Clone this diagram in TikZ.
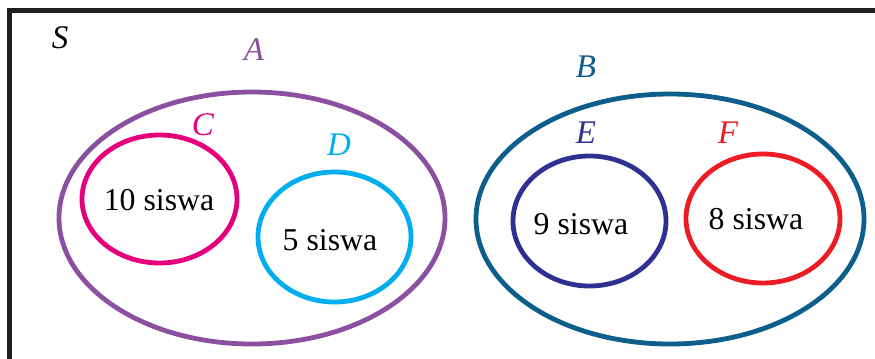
\documentclass[tikz,border=0pt]{standalone}
\usepackage{fontspec}
\setmainfont{Liberation Serif}
\usepackage{xcolor}
\usetikzlibrary{shapes.geometric}
\definecolor{setpurple}{RGB}{140,80,160}
\definecolor{setteal}{RGB}{13,94,138}
\definecolor{setmagenta}{RGB}{230,0,126}
\definecolor{setcyan}{RGB}{0,174,239}
\definecolor{setnavy}{RGB}{46,49,146}
\definecolor{setred}{RGB}{237,28,36}
\tikzset{
  frm/.style={line width=2.6pt,color={rgb,255:red,35;green,31;blue,32}},
  ring/.style={ellipse,draw=#1,line width=2.4pt,inner sep=0pt},
  lab/.style={text=#1,inner sep=0pt,font=\fontsize{16.5}{18}\selectfont\itshape},
  cnt/.style={inner sep=0pt,font=\fontsize{15.9}{18}\selectfont}
}
\newcommand{\setring}[6]{\node[ring=#6,minimum width=#4*0.5pt,minimum height=#5*0.5pt] (#1) at (#2,#3) {};}
\begin{document}
\begin{tikzpicture}[x=0.5pt,y=-0.5pt]
\useasboundingbox (0,0) rectangle (875,359);
\draw[frm] (9.5,370) -- (9.5,10.5) -- (890,10.5);
\node[lab=black] (lS) at (60,38) {S};
\setring{setA}{252}{218}{386}{252}{setpurple}
\setring{setB}{670}{219}{388}{250}{setteal}
\setring{setC}{159.5}{199}{155}{128}{setmagenta}
\setring{setD}{334.5}{237}{153}{130}{setcyan}
\setring{setE}{589.5}{221}{153}{130}{setnavy}
\setring{setF}{763}{218.5}{154}{129}{setred}
\node[lab=setpurple] (lA) at (254,50) {A};
\node[lab=setteal] (lB) at (586,67) {B};
\node[lab=setmagenta] (lC) at (203,125) {C};
\node[lab=setcyan] (lD) at (339,145) {D};
\node[lab=setnavy] (lE) at (586,133) {E};
\node[lab=setred] (lF) at (728,133) {F};
\node[cnt] (nC) at (159,200) {10 siswa};
\node[cnt] (nD) at (330,240) {5 siswa};
\node[cnt] (nE) at (581,224) {9 siswa};
\node[cnt] (nF) at (756,219) {8 siswa};
\end{tikzpicture}
\end{document}
